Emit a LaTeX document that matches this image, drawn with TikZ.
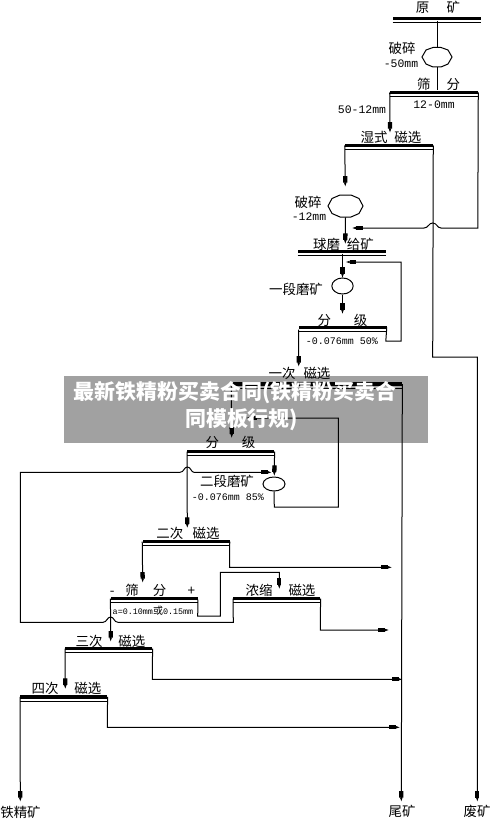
\documentclass[tikz,border=0pt]{standalone}
\usepackage{fontspec}
\setmainfont{Noto Sans CJK SC}
\newfontfamily\monof{Liberation Mono}
\usetikzlibrary{arrows.meta,shapes.geometric}
\tikzset{
  x=0.75pt,y=-0.75pt,
  ln/.style={line width=0.75pt,draw=black},
  ar/.style={ln,-{Rectangle[length=5pt,width=3.2pt,sep=0pt]Triangle[length=3pt,width=1.6pt]}},
  barnode/.style={fill=black,inner sep=0pt,minimum height=2.7pt},
  lab/.style={inner sep=0pt,font=\fontsize{10.1pt}{12pt}\selectfont},
  big/.style={inner sep=0pt,font=\monof\fontsize{8.6pt}{10pt}\selectfont},
  small/.style={inner sep=0pt,font=\monof\fontsize{7.5pt}{9pt}\selectfont},
  tiny/.style={inner sep=0pt,font=\monof\fontsize{6.3pt}{8pt}\selectfont},
  oval/.style={ln,ellipse,inner sep=0pt,fill=white},
  crush/.style={inner sep=0pt}
}
\newcommand\mybar[4]{%
  \node[barnode,minimum width=#4*0.75pt] (#1) at (#2,#3) {};
  \draw[ln] ([yshift=-1.75pt]#1.south west) -- ([yshift=-1.75pt]#1.south east);}
\newcommand\gp[1]{\hspace*{#1pt}}
\begin{document}
\begin{tikzpicture}
\useasboundingbox (0,0) rectangle (492,820);
\fill[white] (0,0) rectangle (492,820);
% separators
\mybar{top}{437}{18.5}{88}
\mybar{sf}{434}{92.5}{88}
\mybar{wet}{389}{145.5}{88}
\mybar{ball}{342}{251.5}{88}
\mybar{fj}{342.5}{327.5}{88}
\mybar{one}{316.8}{384}{170.5}
\mybar{fjb}{230.8}{451.5}{87}
\mybar{two}{186}{541.5}{87}
\mybar{sfb}{154.2}{598.5}{87}
\mybar{con}{276.8}{598.5}{87}
\mybar{three}{108.8}{648.5}{87}
\mybar{four}{63.8}{696.8}{87}
% crushers and mills
\node[crush,minimum width=22.5pt,minimum height=15pt] (c1) at (437,57) {};
\draw[ln] (422,57) -- (426,50) -- (433,47.5) -- (441,47.5) -- (448,50) -- (452,57) -- (448,64) -- (441,67) -- (433,67) -- (426,64) -- cycle;
\node[crush,minimum width=26.2pt,minimum height=16.5pt] (c2) at (345.5,206) {};
\draw[ln] (328,206) -- (332,198.5) -- (340,195) -- (351,195) -- (359,198.5) -- (363,206) -- (359,213.5) -- (351,217) -- (340,217) -- (332,213.5) -- cycle;
\node[oval,minimum width=16pt,minimum height=12pt] (m1) at (342.5,286) {};
\node[oval,minimum width=16.5pt,minimum height=10.5pt] (m2) at (274,484) {};
% free ends
\coordinate (a1) at (390,132.7);
\coordinate (a2) at (345.3,186.7);
\coordinate (a3) at (345.3,244);
\coordinate (a4) at (342.5,278);
\coordinate (a5) at (342.5,314);
\coordinate (a6) at (298.7,366.7);
\coordinate (a7) at (231.7,438);
\coordinate (a8) at (187.3,528);
\coordinate (a9) at (142.7,582.7);
\coordinate (a10) at (279.3,589);
\coordinate (a11) at (110.7,641.7);
\coordinate (a12) at (65.3,689);
\coordinate (a13) at (20.3,801.7);
\coordinate (a14) at (401.3,801.7);
\coordinate (a15) at (477.3,801.7);
\coordinate (a16) at (352,228);
\coordinate (a17) at (345.7,262);
\coordinate (a18) at (246,418);
\coordinate (a19) at (271.7,472.3);
\coordinate (a20) at (392,567.3);
\coordinate (a21) at (389,630);
\coordinate (a22) at (402.5,679.3);
\coordinate (a23) at (400,727.3);
% connectors
\draw[ln] (top.south) -- (c1.north);
\draw[ln] (c1.south) -- (sf.north -| c1.south);
\draw[ar] (sf.west) -- (a1);
\draw[ar] (wet.west) -- (a2);
\draw[ar] (c2.south) -- (a3);
\draw[ar] (ball.south -| a4) -- (a4);
\draw[ar] (m1.south) -- (a5);
\draw[ar] (fj.south west) ++(0.5,0) -- (a6);
\draw[ar] (one.west) -- (a7);
\draw[ar] (fjb.west) -- (a8);
\draw[ar] (two.west) -- (a9);
\draw[ar] (sfb.south east) ++(0,-1) -- (197.7,616) -- (220.3,616) -- (220.3,572.3) -- (279.3,572.3) -- (a10);
\draw[ar] (sfb.west) -- (a11);
\draw[ar] (three.west) -- (a12);
\draw[ar] (four.west) -- (a13);
\draw[ar] (one.east) -- (a14);
\draw[ar] (wet.east) -- (432.7,357) -- (477.3,357) -- (a15);
\draw[ar] (sf.east) -- (477.8,228) -- (441,228) .. controls (437,228) and (437,223) .. (432.7,223) .. controls (428.5,223) and (428.5,228) .. (424,228) -- (a16);
\draw[ar] (fj.east) -- (385.8,341) -- (401,341) -- (401,262) -- (a17);
\draw[ar] (m2.south) -- (274.3,507) -- (338.3,507) -- (338.3,418) -- (a18);
\draw[ar] (fjb.east) -- (274.3,476);
\draw[ar] (con.west) -- (233.3,622.3) -- (118,622.3) .. controls (114,622.3) and (114,617) .. (110.7,617) .. controls (107,617) and (107,622.3) .. (103,622.3) -- (20.3,622.3) -- (20.3,472.3) -- (180,472.3) .. controls (184,472.3) and (184,467) .. (187.3,467) .. controls (191,467) and (191,472.3) .. (194,472.3) -- (a19);
\draw[ar] (two.east) -- (229.5,567.3) -- (a20);
\draw[ar] (con.east) -- (320.3,630) -- (a21);
\draw[ar] (three.east) -- (152.3,679.3) -- (a22);
\draw[ar] (four.east) -- (107.3,727.3) -- (a23);
% labels
\node[lab] (t1) at (438,7.5) {原\gp{13}矿};
\node[lab] (t2) at (402,48) {破碎};
\node[big] (t3) at (401,64) {-50mm};
\node[lab] (t4) at (438.5,84) {筛\gp{12}分};
\node[big] (t5) at (362,110) {50-12mm};
\node[big] (t6) at (434,105) {12-0mm};
\node[lab] (t7) at (391,137) {湿式\gp{5}磁选};
\node[lab] (t8) at (308,202) {破碎};
\node[big] (t9) at (309,217) {-12mm};
\node[lab] (t10) at (343.5,244) {球磨\gp{5}给矿};
\node[lab] (t11) at (296,289) {一段磨矿};
\node[lab] (t12) at (342.5,320) {分\gp{17}级};
\node[small] (t13) at (342,341) {-0.076mm 50\%};
\node[lab] (t14) at (299.5,373) {一次\gp{6}磁选};
\node[lab] (t15) at (230.5,442) {分\gp{17}级};
\node[lab] (t16) at (227,481) {二段磨矿};
\node[small] (t17) at (228,497) {-0.076mm 85\%};
\node[lab] (t18) at (188,533) {二次\gp{7}磁选};
\node[lab] (t19) at (152.5,590) {-\gp{8}筛\gp{10.5}分\gp{16}+};
\node[tiny] (t20) at (153,611) {a=0.10mm{\rmfamily\fontsize{7.5pt}{8pt}\selectfont 或}0.15mm};
\node[lab] (t21) at (280.5,590) {浓缩\gp{12}磁选};
\node[lab] (t22) at (110.5,641) {三次\gp{12}磁选};
\node[lab] (t23) at (66.5,688) {四次\gp{12}磁选};
\node[lab] (t24) at (20.5,812) {铁精矿};
\node[lab] (t25) at (402,811) {尾矿};
\node[lab] (t26) at (477,811) {废矿};
% banner
\fill[black,fill opacity=0.37] (64,376) rectangle (428,443);
\node[inner sep=0pt,text=white,align=center,font=\bfseries\fontsize{15.7pt}{20.4pt}\selectfont] (banner) at (235,406.5) {最新铁精粉买卖合同(铁精粉买卖合\\\hspace*{10pt}同模板行规)};
\end{tikzpicture}
\end{document}
